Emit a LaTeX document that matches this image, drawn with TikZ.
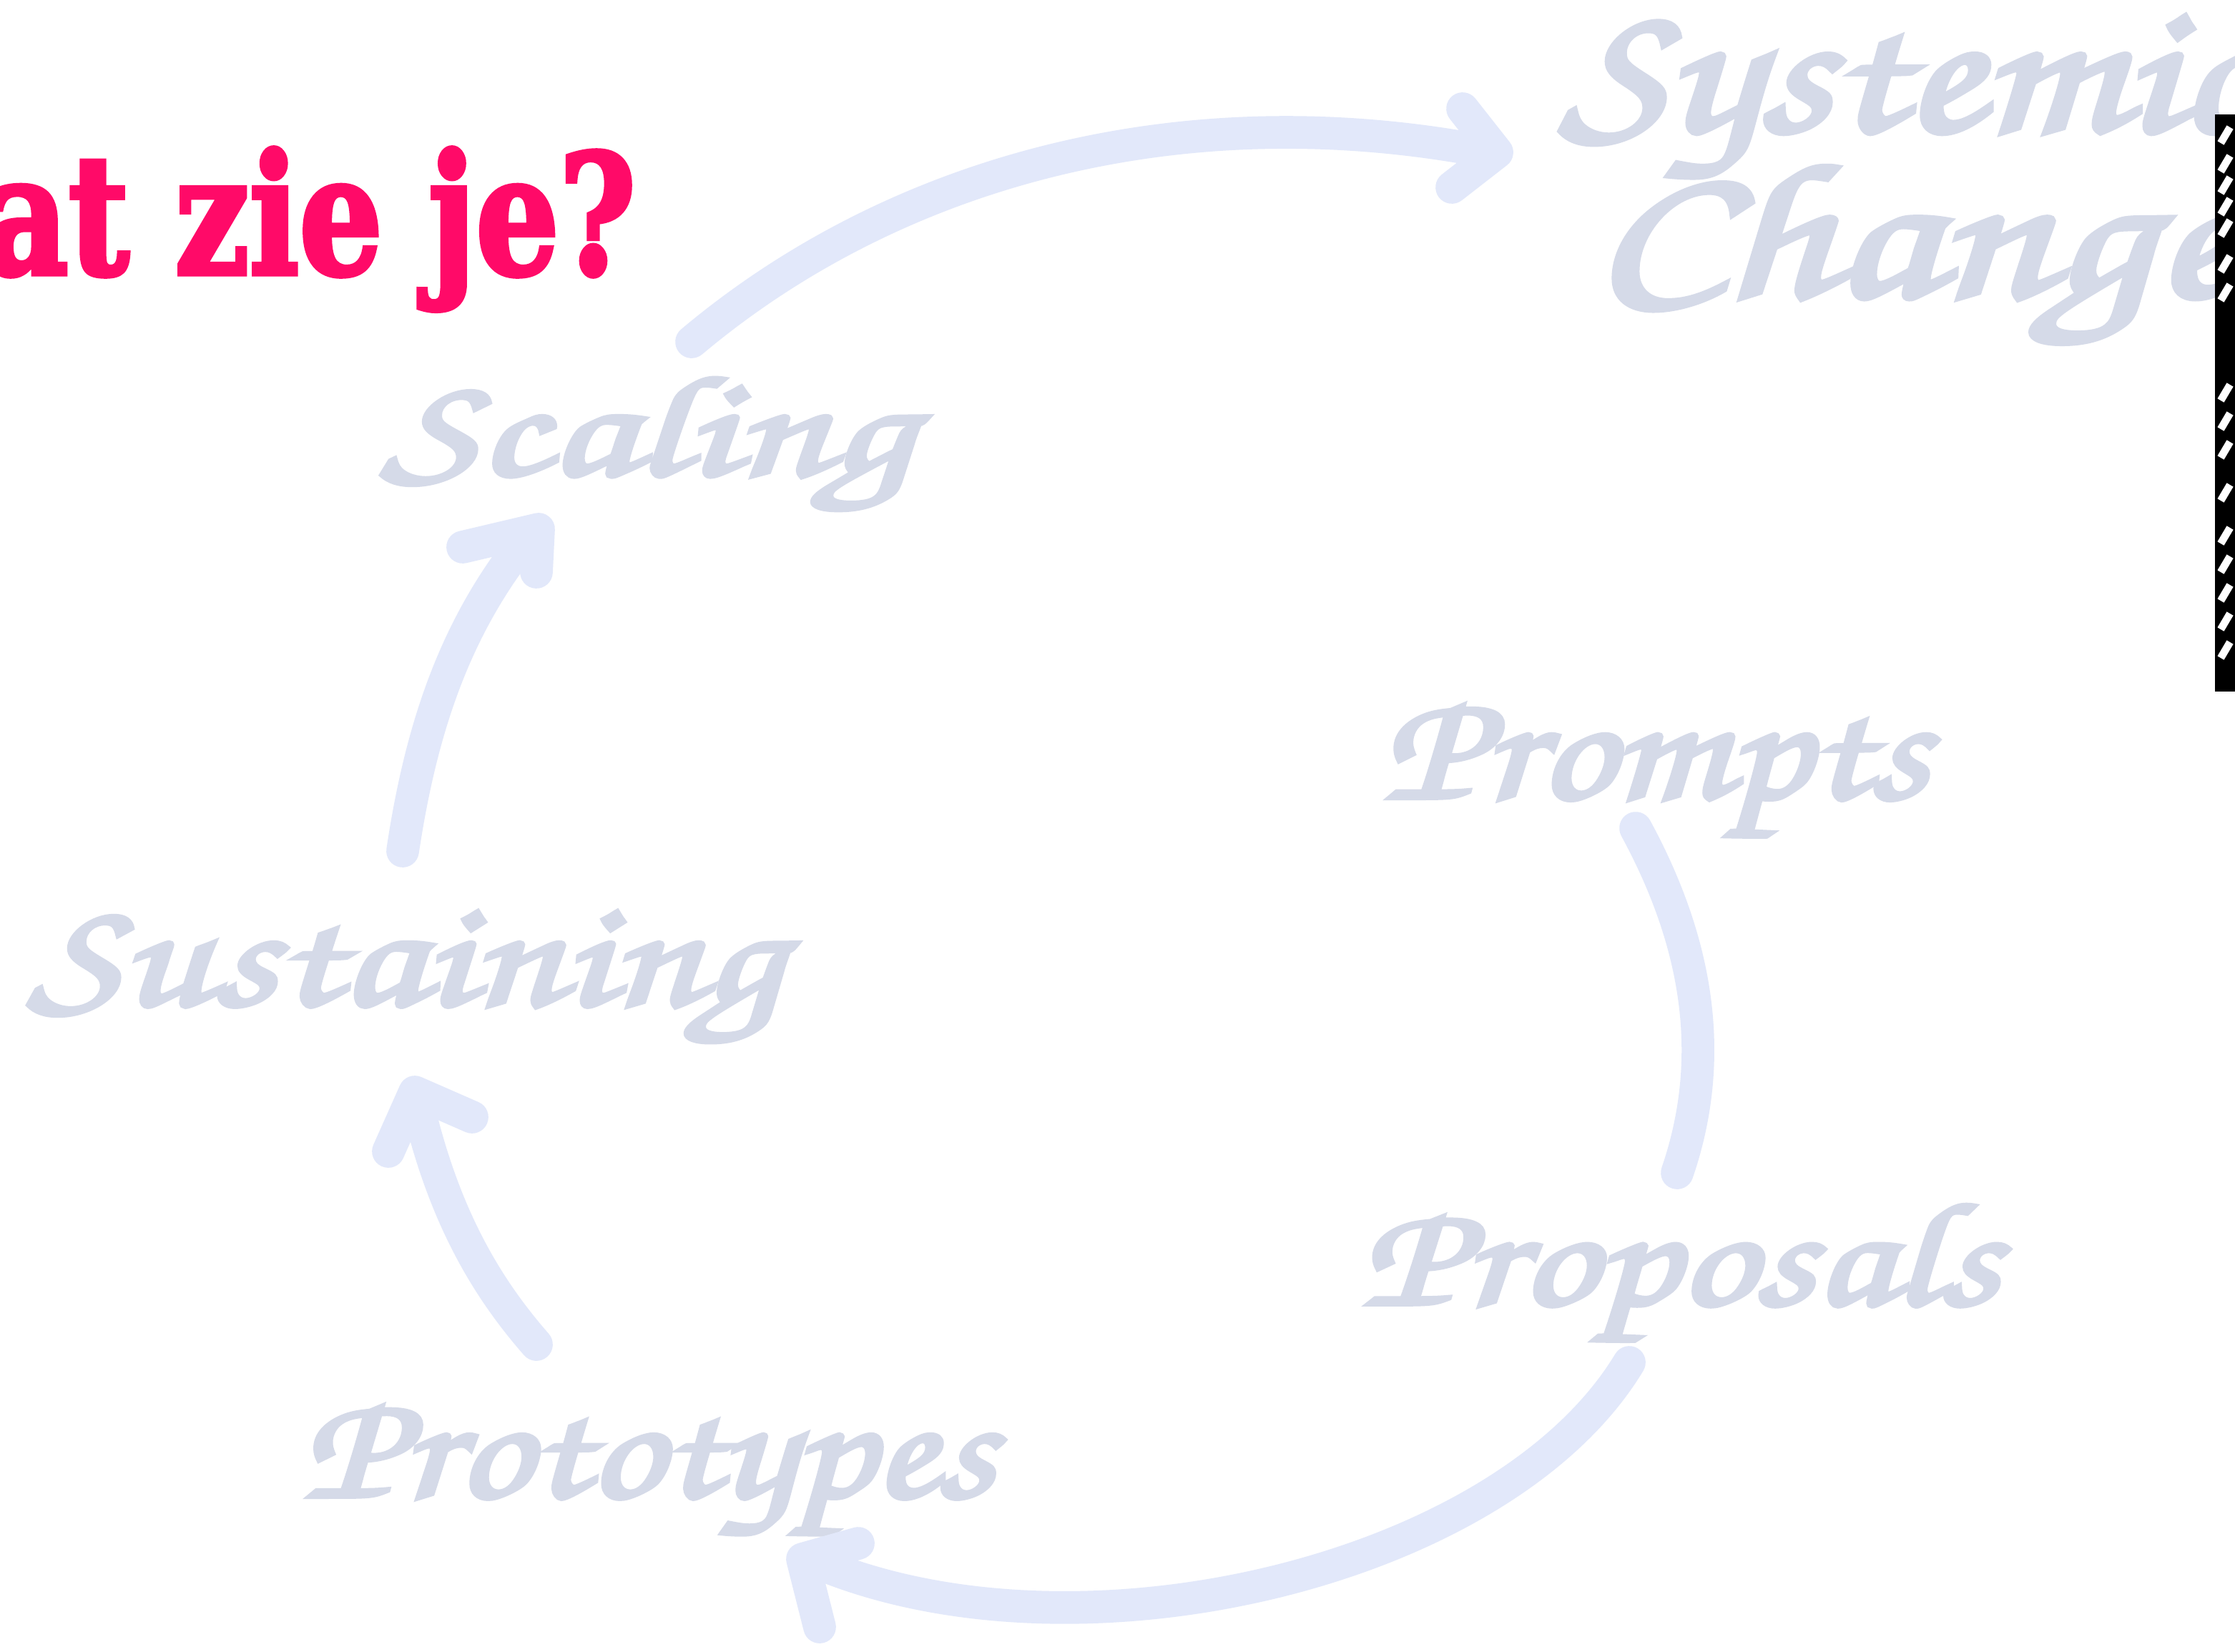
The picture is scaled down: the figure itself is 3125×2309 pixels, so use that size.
\documentclass[tikz,border=0pt]{standalone}
\usepackage[T1,TU]{fontenc}
\usepackage{fontspec}
\usepackage{graphicx}
\newfontfamily\titlefont{DejaVu Serif}
\newcommand\scriptlab{\fontencoding{T1}\fontfamily{pzc}\fontseries{mb}\fontshape{it}\selectfont}
\newcommand\heavy[2]{\special{pdf:literal direct 2 Tr #1 w}#2\special{pdf:literal direct 0 Tr}}
\definecolor{titlepink}{RGB}{255,10,104}
\definecolor{labgrey}{RGB}{213,218,232}
\definecolor{arrowblue}{RGB}{226,232,250}
\tikzset{
  lab/.style={anchor=base west, inner sep=0pt, outer sep=0pt, text=labgrey},
  flow/.style={draw=arrowblue, line width=13pt, line cap=round, line join=round},
}
\begin{document}
\begin{tikzpicture}[x=0.01cm,y=-0.01cm]
\useasboundingbox (0,0) rectangle (3125,2309);
\clip (0,0) rectangle (3125,2309);
\fill[white] (0,0) rectangle (3125,2309);

% title (its first letter lies beyond the left edge, as in the reference)
\node[anchor=base east, inner sep=0pt, text=titlepink] (title) at (890,383)
  {\scalebox{0.79}[1]{\fontsize{66}{66}\selectfont\titlefont\bfseries\heavy{2}{W\kern0.15em at zie je?}}};

% labels
\node[lab] (systemic) at (2182,183) {\resizebox{9.7cm}{1.6cm}{\scriptlab\heavy{0.3}{Systemic}}};
\node[lab] (change) at (2228,414) {\resizebox{9.0cm}{1.9cm}{\scriptlab\heavy{0.3}{Change}}};
\node[lab] (scaling) at (534,664) {\resizebox{7.41cm}{1.42cm}{\scriptlab\heavy{0.3}{Scaling}}};
\node[lab] (sustaining) at (40,1405) {\resizebox{10.52cm}{1.3cm}{\scriptlab\heavy{0.3}{Sustaining}}};
\node[lab] (prototypes) at (423,2093) {\resizebox{9.66cm}{1.3cm}{\scriptlab\heavy{0.3}{Prototypes}}};
\node[lab] (prompts) at (1933,1116) {\resizebox{7.62cm}{1.33cm}{\scriptlab\heavy{0.3}{Prompts}}};
\node[lab] (proposals) at (1903,1824) {\resizebox{8.91cm}{1.46cm}{\scriptlab\heavy{0.3}{Proposals}}};

% connectors (hand-drawn style)
\coordinate (a1s) at (967,478);
\coordinate (a1e) at (2078,212);
\draw[flow] (a1s) .. controls (1250,240) and (1650,130) .. (a1e);
\draw[flow] (2045,152) -- (2093,213) -- (2030,262);

\coordinate (a2s) at (563,1190);
\coordinate (a2e) at (740,748);
\draw[flow] (a2s) .. controls (590,1010) and (640,870) .. (a2e);
\draw[flow] (647,765) -- (753,740) -- (750,800);

\coordinate (a3s) at (750,1880);
\coordinate (a3e) at (583,1540);
\draw[flow] (a3s) .. controls (680,1800) and (620,1700) .. (a3e);
\draw[flow] (543,1610) -- (580,1527) -- (660,1562);

\coordinate (a4s) at (2278,1905);
\coordinate (a4e) at (1135,2182);
\draw[flow] (a4s) .. controls (2100,2200) and (1500,2340) .. (a4e);
\draw[flow] (1200,2158) -- (1122,2180) -- (1146,2275);

\coordinate (a5s) at (2287,1158);
\coordinate (a5e) at (2345,1640);
\draw[flow] (a5s) .. controls (2375,1320) and (2400,1480) .. (a5e);

% photo strip at right edge
\fill[black] (3097,160) rectangle (3140,967);
\foreach \yy in {200,240,270,300,330,380,420,560,600,640,700,760,800,840,880,920}
  \draw[white, line width=3] (3105,\yy) -- (3118,\yy-22);
\end{tikzpicture}
\end{document}
